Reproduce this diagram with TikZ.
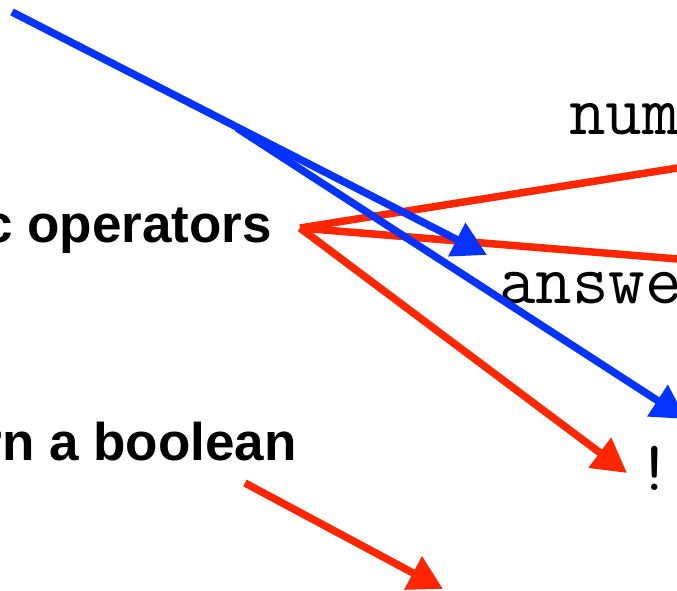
\documentclass[tikz,border=0pt]{standalone}
\usepackage{fontspec}
\setmainfont{Liberation Sans}
\usetikzlibrary{arrows.meta}
\definecolor{kblue}{HTML}{0433FF}
\definecolor{kred}{HTML}{FF2600}
\tikzset{
  lbl/.style={inner sep=0pt, font=\fontsize{53}{60}\selectfont\bfseries},
  code/.style={inner sep=0pt, font=\fontsize{71}{80}\selectfont\ttfamily},
  conn/.style={line width=7.5pt},
  bluearrow/.style={conn, kblue, -{Triangle[length=34pt,width=36pt]}},
  redarrow/.style={conn, kred, -{Triangle[length=34pt,width=36pt]}},
  redline/.style={conn, kred},
}
\begin{document}
\begin{tikzpicture}[x=1pt,y=-1pt]
\useasboundingbox (0,0) rectangle (677,590);
\node[lbl, anchor=base east] (ops) at (272,242) {c operators};
\node[lbl, anchor=base east] (bool) at (297,460) {rn a boolean};
\node[code, anchor=base west] (num) at (569,134) {num};
\node[code, anchor=base west] (ans) at (499,303) {answe};
\node[code, anchor=base] (bang) at (655,490) {!};
\coordinate (b0) at (12,12);
\coordinate (bj) at (237,128);
\coordinate (bt1) at (487,255);
\coordinate (bt2) at (686,419);
\coordinate (r0) at (300,228);
\coordinate (r1) at (690,166);
\coordinate (r2) at (690,260);
\coordinate (rt) at (627,473);
\coordinate (s0) at (245,483);
\coordinate (st) at (443,589);
\draw[redline] (r0) -- (r1);
\draw[redline] (r0) -- (r2);
\draw[redarrow] (r0) -- (rt);
\draw[redarrow] (s0) -- (st);
\draw[bluearrow] (b0) -- (bt1);
\draw[bluearrow] (bj) -- (bt2);
\end{tikzpicture}
\end{document}
